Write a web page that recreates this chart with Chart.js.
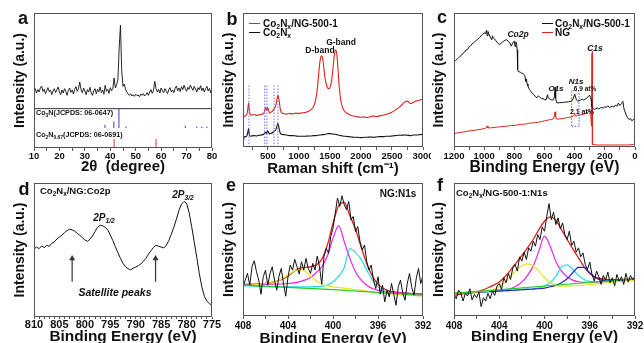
<!DOCTYPE html>
<html><head><meta charset="utf-8">
<script src="https://cdn.jsdelivr.net/npm/chart.js@4.4.0/dist/chart.umd.min.js"></script>
<style>
html,body{margin:0;padding:0;background:#fff;width:644px;height:343px;overflow:hidden;}
#wrap{position:relative;width:644px;height:343px;overflow:hidden;font-family:"Liberation Sans",Arial,sans-serif;}
canvas{position:absolute;}
.t{position:absolute;white-space:nowrap;font-weight:bold;color:#111;line-height:1;transform:translateY(-50%);}
.c{transform:translate(-50%,-50%);}
.i{font-style:italic;}
.t sub{font-size:0.68em;vertical-align:-0.28em;line-height:0;}
.ln{position:absolute;height:0;width:11px;}
</style></head>
<body><div id="wrap">
<canvas id="ca" width="222" height="180" style="left:0;top:0"></canvas>
<canvas id="cb" width="219" height="180" style="left:212px;top:0"></canvas>
<canvas id="cc" width="218" height="180" style="left:426px;top:0"></canvas>
<canvas id="cd" width="222" height="172" style="left:0;top:176px"></canvas>
<canvas id="ce" width="219" height="172" style="left:212px;top:176px"></canvas>
<canvas id="cf" width="218" height="172" style="left:426px;top:176px"></canvas>

<div class="t c" style="left:23px;top:18px;font-size:18px">a</div>
<div class="t c" style="left:232px;top:19px;font-size:18px">b</div>
<div class="t c" style="left:442px;top:17px;font-size:18px">c</div>
<div class="t c" style="left:24px;top:189px;font-size:18px">d</div>
<div class="t c" style="left:231px;top:185px;font-size:18px">e</div>
<div class="t c" style="left:440px;top:185px;font-size:18px">f</div>

<div class="t" style="left:36px;top:113px;font-size:7.2px">Co<sub>3</sub>N(JCPDS: 06-0647)</div>
<div class="t" style="left:36px;top:135px;font-size:7.2px">Co<sub>2</sub>N<sub>0.67</sub>(JCPDS: 06-0691)</div>

<div class="ln" style="left:249px;top:23px;border-top:1.5px solid #e3211c"></div>
<div class="t" style="left:263px;top:24px;font-size:10px">Co<sub>2</sub>N<sub>x</sub>/NG-500-1</div>
<div class="ln" style="left:249px;top:32px;border-top:1.5px solid #111"></div>
<div class="t" style="left:263px;top:33px;font-size:10px">Co<sub>2</sub>N<sub>x</sub></div>
<div class="t c" style="left:320px;top:50px;font-size:8.5px">D-band</div>
<div class="t c" style="left:341px;top:42px;font-size:8.5px">G-band</div>

<div class="ln" style="left:542px;top:23px;border-top:1.5px solid #111"></div>
<div class="t" style="left:555px;top:24px;font-size:10px">Co<sub>2</sub>N<sub>x</sub>/NG-500-1</div>
<div class="ln" style="left:542px;top:32px;border-top:1.5px solid #e3211c"></div>
<div class="t" style="left:555px;top:33px;font-size:10px">NG</div>
<div class="t c i" style="left:518px;top:34px;font-size:8.5px">Co2p</div>
<div class="t c i" style="left:556px;top:89px;font-size:8px">O1s</div>
<div class="t c i" style="left:576px;top:82px;font-size:8px">N1s</div>
<div class="t c" style="left:585px;top:89px;font-size:6.5px">6.9 at%</div>
<div class="t c" style="left:582px;top:111px;font-size:7px">2.1 at%</div>
<div class="t c i" style="left:595px;top:48px;font-size:8.5px">C1s</div>

<div class="t" style="left:40px;top:191px;font-size:9.5px">Co<sub>2</sub>N<sub>x</sub>/NG:Co2p</div>
<div class="t c i" style="left:104px;top:218px;font-size:10px">2P<sub>1/2</sub></div>
<div class="t c i" style="left:183px;top:195px;font-size:10px">2P<sub>3/2</sub></div>
<div class="t c i" style="left:115px;top:292px;font-size:10.5px">Satellite peaks</div>

<div class="t c" style="left:398px;top:194px;font-size:10px">NG:N1s</div>
<div class="t" style="left:456px;top:193px;font-size:9.5px">Co<sub>2</sub>N<sub>x</sub>/NG-500-1:N1s</div>
</div>
<script>
const F = '"Liberation Sans", Arial, sans-serif';
Chart.defaults.font.family = F;

// ---------- panel a : XRD ----------
const xrdTheta = [10,10.5,11,11.5,12,12.5,13,13.5,14,14.5,15,15.5,16,16.5,17,17.5,18,18.5,19,19.5,20,20.5,21,21.5,22,22.5,23,23.5,24,24.5,25,25.5,26,26.5,27,27.5,28,28.5,29,29.5,30,30.5,31,31.5,32,32.5,33,33.5,34,34.5,35,35.5,36,36.5,37,37.5,38,38.5,39,39.5,40,40.5,41,41.5,42,42.5,43,43.5,44,44.5,45,45.5,46,46.5,47,47.5,48,48.5,49,49.5,50,50.5,51,51.5,52,52.5,53,53.5,54,54.5,55,55.5,56,56.5,57,57.5,58,58.5,59,59.5,60,60.5,61,61.5,62,62.5,63,63.5,64,64.5,65,65.5,66,66.5,67,67.5,68,68.5,69,69.5,70,70.5,71,71.5,72,72.5,73,73.5,74,74.5,75,75.5,76,76.5,77,77.5,78,78.5,79,79.5,80];
const xrdInt = [170,178,165,175,168,180,186,170,176,163,
172,181,169,174,160,171,178,166,175,183,
168,160,174,165,178,170,158,172,180,167,
174,162,176,184,170,178,198,175,166,180,
171,160,175,168,182,165,158,172,178,163,
176,169,183,166,174,161,188,170,176,164,
181,172,178,210,180,190,205,300,368,230,
185,192,176,168,162,158,163,156,160,155,
161,157,159,154,162,158,163,156,160,166,
158,168,175,164,172,200,178,168,176,165,
180,171,166,178,170,163,175,181,168,174,
166,179,186,172,180,169,184,175,188,178,
170,182,176,189,180,173,185,177,168,181,
175,187,172,180,168,178,185,171,179,166,
176];
const xrdDivider = 118;
const co3nPos = [37.9, 41.4, 43.4, 46.2, 69.5, 74.0, 76.0, 78.0];
const co3nTop = [70, 80, 117, 65, 67, 64, 64, 64];
const co3nBase = 60;
const co2nPos = [41.5, 58.0];
const co2nTop = [27, 27];
const co2nBase = 0;
const aTicks = [10,15,20,25,30,35,40,45,50,55,60,65,70,75,80];
const aLabels = [10,20,30,40,50,60,70,80];

// ---------- panel b : Raman ----------
const ramanX = [100,110,120,140,160,175,190,200,215,240,280,320,360,400,430,450,465,480,495,510,525,545,570,600,625,645,660,670,685,700,720,750,800,850,900,950,1000,1050,1100,1150,1200,1240,1270,1300,1320,1340,1360,1380,1400,1420,1450,1480,1510,1530,1550,1570,1590,1610,1630,1650,1680,1710,1750,1800,1850,1900,1950,2000,2050,2100,2150,2200,2250,2300,2350,2400,2450,2500,2550,2600,2650,2700,2750,2800,2850,2900,2950,3000];
const ramanComposite = [55,88,92,93,97,110,132,112,98,95,97,94,96,98,99,110,118,108,118,112,102,104,106,114,122,140,154,150,135,114,103,100,98,100,99,101,100,102,103,106,112,122,140,178,220,255,272,268,240,208,182,174,182,202,235,272,290,280,235,180,135,115,104,98,94,92,90,89,90,88,90,93,91,93,95,97,100,104,110,116,124,134,137,130,134,138,140,144];
const ramanCo2Nx = [0,22,30,31,33,42,55,38,32,33,34,33,35,36,38,42,44,40,48,44,39,41,42,47,50,60,70,66,52,42,38,37,36,34,34,33,32,32,32,33,33,34,34,35,35,36,36,37,37,38,39,40,40,39,39,38,38,37,36,35,34,33,32,31,30,29,29,28,29,29,30,29,30,31,31,32,32,33,34,35,35,36,35,34,36,36,37,38];
const ramanMarkers = [197, 450, 485, 600, 662];
const ramanMarkerTop = 185;
const bTicks = [250,500,750,1000,1250,1500,1750,2000,2250,2500,2750,3000];
const bLabels = [500,1000,1500,2000,2500,3000];

// ---------- panel c : XPS survey ----------
const surveyX1 = [1200,1190,1180,1170,1160,1150,1140,1130,1120,1110,1100,1090,1080,1070,1060,1050,1040,1030,1020,1010,1000,990,985,980,975,970,960,950,945,940,930,920,910,900,890,880,870,860,850,840,830,820,810,800,795,790,785,781,778,775,760,750,740,730,725,720,715,710,700,690,680,670,660,650,640,630,620,610,600,590,580,575,560,550,540,534,530,526,520,500,480,460,440,420,408,400,394,388,380,370,360,350,340,330,320,310,300,295,290,287,280,270,260,250,240,230,220,210,200,190,180,170,160,150,140,130,120,110,100,90,80,75,70,60,50,40,30,20,10,0];
const surveyComposite = [255,258,262,266,271,274,280,283,290,291,299,302,308,311,316,319,323,327,332,336,341,338,348,332,345,339,328,320,332,325,322,316,310,306,309,313,316,319,320,316,310,301,312,316,300,314,306,290,232,226,223,220,218,214,195,203,188,182,172,166,160,156,150,147,153,148,145,144,142,140,156,146,142,140,141,150,178,146,132,132,133,134,135,137,146,158,149,140,137,138,140,143,140,143,145,151,154,148,140,122,116,112,114,116,114,117,118,116,121,118,123,118,120,122,119,125,122,131,124,129,136,118,110,98,88,82,85,78,83,78];
const surveyX2 = [1200,1180,1160,1140,1120,1100,1080,1060,1040,1020,1000,990,980,975,960,940,920,900,880,860,840,820,800,780,760,740,720,700,680,660,640,620,600,580,560,540,534,530,526,520,500,480,460,440,420,408,400,394,380,360,340,320,310,300,294,290,288,286,285,284,283,282,280,270,250,200,150,100,50,20,10,0];
const surveyNG = [40,42,43,45,46,48,49,50,52,53,55,56,63,57,57,58,59,60,61,62,63,64,64,66,67,68,69,71,72,73,74,76,78,80,82,84,95,105,90,83,84,85,87,88,90,93,98,92,94,96,98,101,105,108,100,72,62,140,280,285,190,55,8,7,6,6,6,6,6,7,8,6];
const n1sBoxX = [420, 371];
const n1sBoxY = [62, 168];
const cTicks = [0,100,200,300,400,500,600,700,800,900,1000,1100,1200];
const cLabels = [0,200,400,600,800,1000,1200];

// ---------- panel d : Co2p ----------
const co2pX = [810,809.5,809,808.5,808,807.5,807,806.5,806,805.5,805,804.5,804,803.5,803,802.5,802,801.5,801,800.5,800,799.5,799,798.5,798,797.5,797,796.5,796,795.5,795,794.5,794,793.5,793,792.5,792,791.5,791,790.5,790,789.5,789,788.5,788,787.5,787,786.5,786,785.5,785,784.5,784,783.5,783,782.5,782,781.5,781,780.5,780,779.5,779,778.5,778,777.5,777,776.5,776,775.5,775];
const co2pInt = [203,209,204,212,207,214,211,220,224,233,239,244,252,258,262,260,256,250,244,237,230,226,232,242,255,268,274,272,268,260,245,228,210,192,175,160,150,144,141,146,149,153,158,166,175,187,198,208,214,211,209,206,214,228,247,268,292,318,337,345,339,312,270,225,178,130,90,62,47,40,35];
const satPos = [802.5, 786.1];
const satArrow = [105, 175];
const dTicks = [775,776,777,778,779,780,781,782,783,784,785,786,787,788,789,790,791,792,793,794,795,796,797,798,799,800,801,802,803,804,805,806,807,808,809,810];
const dLabels = [775,780,785,790,795,800,805,810];

// ---------- panels e, f : N1s ----------
const n1sRawX = [408,407.8,407.6,407.4,407.2,407,406.8,406.6,406.4,406.2,406,405.8,405.6,405.4,405.2,405,404.8,404.6,404.4,404.2,404,403.8,403.6,403.4,403.2,403,402.8,402.6,402.4,402.2,402,401.8,401.6,401.4,401.2,401,400.8,400.6,400.4,400.2,400,399.8,399.6,399.4,399.2,399,398.8,398.6,398.4,398.2,398,397.8,397.6,397.4,397.2,397,396.8,396.6,396.4,396.2,396,395.8,395.6,395.4,395.2,395,394.8,394.6,394.4,394.2,394,393.8,393.6,393.4,393.2,393,392.8,392.6,392.4,392.2,392];
const n1sFitX = [408,407.5,407,406.5,406,405.5,405,404.5,404,403.5,403,402.5,402,401.5,401,400.5,400,399.5,399,398.5,398,397.5,397,396.5,396,395.5,395,394.5,394,393.5,393,392.5,392];
const ngRaw = [87,107,127,92,147,165,132,107,65,117,137,92,127,147,107,77,119,142,97,59,117,152,137,169,147,125,162,137,172,142,127,157,137,179,147,95,177,202,187,237,262,307,352,327,359,332,317,342,287,297,252,267,222,197,212,162,137,152,107,82,117,65,92,42,77,57,97,65,32,87,107,69,47,97,127,85,62,112,142,97,122];
const ngEnvelope = [94,95,95,96,97,100,104,110,119,132,142,145,147,152,169,212,277,329,339,299,259,206,157,119,95,82,75,72,70,68,67,66,65];
const ngPyrrolic = [92,92,93,93,94,95,95,96,97,99,102,107,115,129,147,179,232,269,222,172,132,107,92,82,77,74,72,70,69,68,67,66,65];
const ngPyridinic = [90,90,89,89,88,88,87,87,87,87,87,87,87,88,89,92,102,119,145,201,190,169,137,107,87,75,69,66,64,63,62,61,61];
const ngOxidized = [91,92,93,95,97,100,104,112,122,133,139,134,119,105,95,90,87,85,83,81,79,77,74,72,69,68,67,65,64,63,62,61,60];
const ngBaseX = [408, 400, 392];
const ngBase = [92, 79, 62];
const cnRaw = [65,52,78,70,45,68,60,82,48,65,55,72,28,55,45,68,52,75,62,90,98,80,115,100,128,110,145,155,135,178,165,192,170,205,195,225,210,245,230,268,255,300,338,290,312,275,295,262,280,245,230,255,212,225,192,205,178,190,155,140,162,125,105,135,118,95,122,108,132,100,115,90,125,105,118,95,128,102,122,110,120];
const cnEnvelope = [62,65,68,70,73,78,85,93,102,118,138,160,182,205,230,260,285,298,288,260,230,202,175,148,128,117,112,110,109,109,110,111,112];
const cnPyrrolic = [70,70,71,71,72,73,74,75,76,78,82,90,102,122,150,195,240,210,165,135,118,108,103,101,101,102,103,104,105,106,107,108,109];
const cnGraphitic = [68,69,70,71,72,73,75,80,88,100,118,138,152,157,150,135,115,100,92,90,90,91,92,93,95,96,98,100,102,103,105,106,108];
const cnPyridinic = [68,69,70,70,71,72,73,74,75,76,77,78,80,81,82,85,90,100,120,147,154,140,122,110,104,103,103,104,105,106,107,108,108];
const cnCoN = [68,68,69,70,71,72,73,74,75,76,77,78,79,80,81,82,84,88,92,100,112,130,146,146,130,115,108,106,106,107,107,108,109];
const cnBaseX = [408, 392];
const cnBase = [68, 112];
const efTicks = [392,394,396,398,400,402,404,406,408];
const efLabels = [392,396,400,404,408];

// ---------- helpers ----------
const RED='#e3211c', BLK='#111', MAG='#ee22ee', CYA='#22e0f0', YEL='#e6e620', GRN='#22cc22', BLU='#2424c8';
function xy(xs, ys){ return xs.map((x,i)=>({x:x, y:ys[i]})); }
function ds(data, color, w, extra){ return Object.assign({data:data, borderColor:color, backgroundColor:color, borderWidth:w, pointRadius:0, fill:false, tension:0, spanGaps:false}, extra||{}); }
function sticks(pos, base, tops){ const out=[]; pos.forEach((p,i)=>{ out.push({x:p,y:base},{x:p,y:tops[i]},{x:p,y:null}); }); return out; }
const frame = { id:'frame', afterDraw(c){ const a=c.chartArea, ctx=c.ctx; ctx.save(); ctx.strokeStyle='#555'; ctx.lineWidth=1;
  ctx.strokeRect(Math.round(a.left)+0.5, Math.round(a.top)+0.5, Math.round(a.right-a.left)-1, Math.round(a.bottom-a.top)-1); ctx.restore(); } };

function mk(id, g, x, yMax, datasets){
  return new Chart(document.getElementById(id), {
    type:'line',
    data:{datasets:datasets},
    options:{
      responsive:false, animation:false, events:[],
      layout:{padding:{left:0,right:g.pr,top:g.pt,bottom:0}},
      plugins:{legend:{display:false}, tooltip:{enabled:false}},
      scales:{
        x:{type:'linear', min:x.min, max:x.max, reverse:!!x.reverse,
          afterFit(s){ s.height=g.bh; s.paddingLeft=0; s.paddingRight=0; },
          afterBuildTicks(s){ s.ticks = x.ticks.map(v=>({value:v})); },
          grid:{drawOnChartArea:false, drawTicks:true, tickLength:g.tl, color:'#555'},
          border:{display:false},
          ticks:{autoSkip:false, maxRotation:0, minRotation:0, padding:g.tp, color:'#111',
            font:{family:F, size:x.fs, weight:'bold'},
            callback:v => x.labels.indexOf(v)>=0 ? String(v) : ''},
          title:{display:true, text:x.title, color:'#111', font:{family:F, size:x.ts, weight:'bold'}, padding:{top:0,bottom:g.xtp}}
        },
        y:{min:0, max:yMax,
          afterFit(s){ s.width=g.lw; },
          ticks:{display:false}, grid:{display:false}, border:{display:false},
          title:{display:true, text:'Intensity (a.u.)', color:'#111', font:{family:F, size:14, weight:'bold'}, padding:{top:g.ytp,bottom:0}}
        }
      }
    },
    plugins:[frame]
  });
}

// ---------- charts ----------
mk('ca', {lw:34, pr:10, pt:13, bh:32, tl:3, tp:-0.4, xtp:4, ytp:11.6},
  {min:10, max:80, ticks:aTicks, labels:aLabels, title:'2θ  (degree)', ts:15, fs:9.5}, 405, [
  ds(xy(xrdTheta, xrdInt), BLK, 0.9),
  ds([{x:10,y:xrdDivider},{x:80,y:xrdDivider}], '#333', 1),
  ds(sticks(co3nPos, co3nBase, co3nTop), '#3a3ad0', 1),
  ds(sticks(co2nPos, co2nBase, co2nTop), '#e03030', 1)
]);

mk('cb', {lw:31, pr:8, pt:13, bh:33, tl:3, tp:0.6, xtp:2, ytp:8.6},
  {min:100, max:3000, ticks:bTicks, labels:bLabels, title:'Raman shift (cm⁻¹)', ts:15, fs:9.5}, 400, [
  ds(sticks(ramanMarkers, 0, ramanMarkers.map(()=>ramanMarkerTop)), '#7070f0', 1, {borderDash:[1.5,1.5]}),
  ds(xy(ramanX, ramanComposite), RED, 1.1, {cubicInterpolationMode:'monotone'}),
  ds(xy(ramanX, ramanCo2Nx), BLK, 1.1, {cubicInterpolationMode:'monotone'})
]);

mk('cc', {lw:28, pr:9, pt:13, bh:33, tl:3, tp:0.6, xtp:2.6, ytp:4.6},
  {min:0, max:1200, reverse:true, ticks:cTicks, labels:cLabels, title:'Binding Energy (eV)', ts:15.7, fs:9.5}, 400, [
  ds(xy(surveyX1, surveyComposite), BLK, 1),
  ds(xy(surveyX2, surveyNG), RED, 1),
  ds([{x:n1sBoxX[0],y:n1sBoxY[0]},{x:n1sBoxX[1],y:n1sBoxY[0]},{x:n1sBoxX[1],y:n1sBoxY[1]},{x:n1sBoxX[0],y:n1sBoxY[1]},{x:n1sBoxX[0],y:n1sBoxY[0]}], '#5a5af0', 1, {borderDash:[1.5,1.5]})
]);

mk('cd', {lw:34, pr:10, pt:7, bh:31, tl:2, tp:-0.9, xtp:2.3, ytp:11.6},
  {min:775, max:810, reverse:true, ticks:dTicks, labels:dLabels, title:'Binding Energy (eV)', ts:15.4, fs:11}, 400, [
  ds(xy(co2pX, co2pInt), BLK, 1),
  ds([{x:satPos[0],y:satArrow[0]},{x:satPos[0],y:satArrow[1]}], '#333', 1.2, {pointRadius:[0,3.5], pointStyle:'triangle', pointBorderWidth:0}),
  ds([{x:satPos[1],y:satArrow[0]},{x:satPos[1],y:satArrow[1]}], '#333', 1.2, {pointRadius:[0,3.5], pointStyle:'triangle', pointBorderWidth:0})
]);

mk('ce', {lw:31, pr:8, pt:7, bh:32, tl:3, tp:1.3, xtp:0.5, ytp:8.6},
  {min:392, max:408, reverse:true, ticks:efTicks, labels:efLabels, title:'Binding Energy (eV)', ts:15.4, fs:10}, 397, [
  ds(xy(n1sRawX, ngRaw), BLK, 1),
  ds(xy(ngBaseX, ngBase), GRN, 1.2),
  ds(xy(n1sFitX, ngOxidized), YEL, 1.2, {cubicInterpolationMode:'monotone'}),
  ds(xy(n1sFitX, ngPyridinic), CYA, 1.2, {cubicInterpolationMode:'monotone'}),
  ds(xy(n1sFitX, ngPyrrolic), MAG, 1.2, {cubicInterpolationMode:'monotone'}),
  ds(xy(n1sFitX, ngEnvelope), RED, 1.3, {cubicInterpolationMode:'monotone'})
]);

mk('cf', {lw:28, pr:9, pt:7, bh:32, tl:3, tp:1.3, xtp:1.8, ytp:4.6},
  {min:392, max:408, reverse:true, ticks:efTicks, labels:efLabels, title:'Binding Energy (eV)', ts:15.4, fs:10}, 400, [
  ds(xy(n1sRawX, cnRaw), BLK, 1),
  ds(xy(cnBaseX, cnBase), GRN, 1.2),
  ds(xy(n1sFitX, cnGraphitic), YEL, 1.2, {cubicInterpolationMode:'monotone'}),
  ds(xy(n1sFitX, cnCoN), BLU, 1.2, {cubicInterpolationMode:'monotone'}),
  ds(xy(n1sFitX, cnPyridinic), CYA, 1.2, {cubicInterpolationMode:'monotone'}),
  ds(xy(n1sFitX, cnPyrrolic), MAG, 1.2, {cubicInterpolationMode:'monotone'}),
  ds(xy(n1sFitX, cnEnvelope), RED, 1.3, {cubicInterpolationMode:'monotone'})
]);
</script>
</body></html>
